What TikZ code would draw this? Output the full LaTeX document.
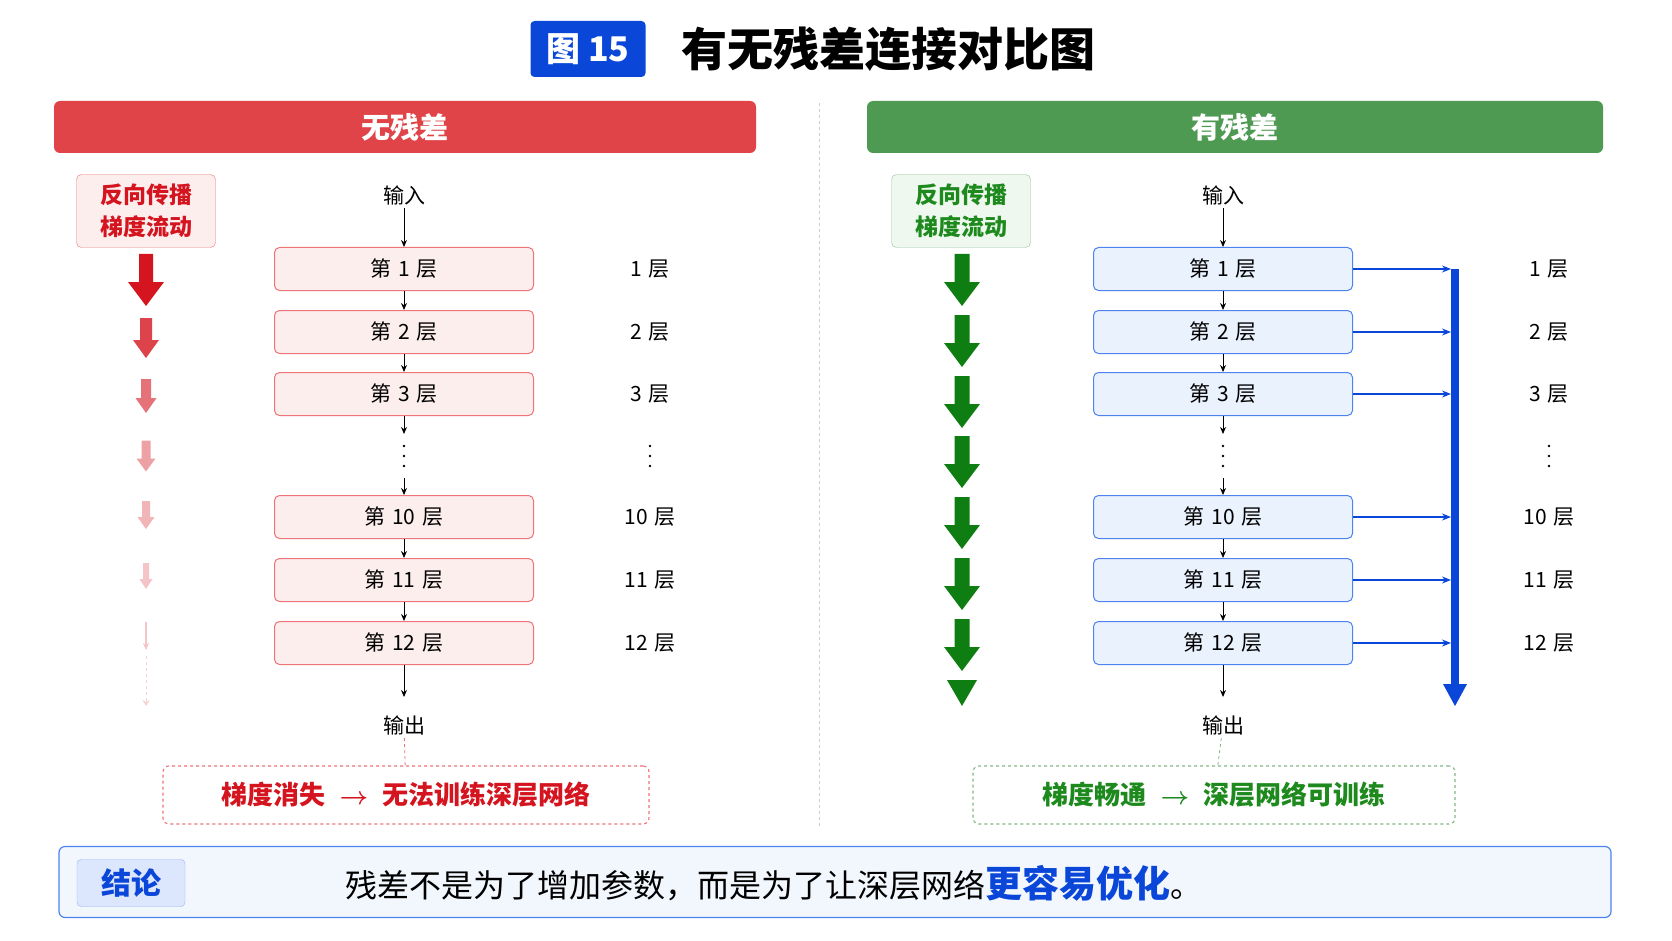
\documentclass[tikz,border=0pt]{standalone}
\usepackage{fontspec}
\setmainfont{Noto Sans CJK SC}
\usetikzlibrary{arrows.meta}
\definecolor{rd}{HTML}{E04448}
\definecolor{rdt}{HTML}{D4141E}
\definecolor{pinkf}{HTML}{FDEEEE}
\definecolor{pinkb}{HTML}{EE7478}
\definecolor{gr}{HTML}{4E9A52}
\definecolor{grt}{HTML}{1E8A1E}
\definecolor{grf}{HTML}{EEF8EE}
\definecolor{gra}{HTML}{0E7E12}
\definecolor{bl}{HTML}{0A46D8}
\definecolor{blf}{HTML}{EAF2FE}
\definecolor{blb}{HTML}{4E82EE}
\newcommand{\barrow}[7]{% x y shaftw total headw headlen color
 \fill[#7] (#1-#3/2,#2-#4/2) -- (#1+#3/2,#2-#4/2) -- (#1+#3/2,#2+#4/2-#6) -- (#1+#5/2,#2+#4/2-#6) -- (#1,#2+#4/2) -- (#1-#5/2,#2+#4/2-#6) -- (#1-#3/2,#2+#4/2-#6) -- cycle;}
\newcommand{\vdts}[2]{\foreach \dy in {-10,0,10}{\fill (#1,#2+\dy) circle (1.4pt);}}
\begin{document}
\begin{tikzpicture}[x=1pt,y=-1pt,
 lay/.style={draw=#1,line width=1pt,rounded corners=5pt,minimum width=259pt,minimum height=43pt,font=\fontsize{21}{22}\selectfont},
 conn/.style={-{Stealth[length=7pt,width=6pt]},line width=0.9pt},
 side/.style={font=\fontsize{21}{22}\selectfont},
 lbl/.style={font=\fontsize{21}{22}\selectfont}]
\useasboundingbox (0,0) rectangle (1672,941);
\fill[white] (0,0) rectangle (1672,941);
% title
\node[fill=bl,rounded corners=4pt,minimum width=115pt,minimum height=56pt,text=white,font=\fontsize{34}{36}\selectfont\bfseries] (badge) at (588,49) {图 15};
\node[anchor=west,font=\fontsize{46}{50}\selectfont\bfseries] (title) at (678,49) {有无残差连接对比图};
% banners
\node[fill=rd,rounded corners=6pt,minimum width=702pt,minimum height=52pt,text=white,font=\fontsize{29}{30}\selectfont\bfseries] (bl) at (405,127) {无残差};
\node[fill=gr,rounded corners=6pt,minimum width=736pt,minimum height=52pt,text=white,font=\fontsize{29}{30}\selectfont\bfseries] (br) at (1235,127) {有残差};
\draw[gray!40,dashed,line width=0.8pt] (819,103) -- (819,826);
% left tag
\node[draw=pinkb,fill=pinkf,rounded corners=5pt,minimum width=139pt,minimum height=73pt,align=center,text=rdt,font=\fontsize{23}{32}\selectfont\bfseries] (tl) at (146,211) {反向传播\\梯度流动};
\node[draw=gr!60,fill=grf,rounded corners=5pt,minimum width=139pt,minimum height=73pt,align=center,text=grt,font=\fontsize{23}{32}\selectfont\bfseries] (tr) at (961,211) {反向传播\\梯度流动};
% columns
\foreach \side/\cx/\lx/\col/\fil in {L/404/650/pinkb/pinkf, R/1223/1549/blb/blf}{
 \node[lbl] (\side in) at (\cx,195) {输入};
 \foreach \n/\y in {1/269,2/332,3/394,10/517,11/580,12/643}{
  \node[lay=\col,fill=\fil] (\side\n) at (\cx,\y) {第\hspace{7pt}\n\hspace{7pt}层};
  \node[side] (\side s\n) at (\lx,\y) {\n\hspace{7pt}层};
 }
 \node[lbl] (\side out) at (\cx,725) {输出};
 \vdts{\cx}{456}
 \vdts{\lx}{456}
 \coordinate (\side d1) at (\cx,434);
 \coordinate (\side d2) at (\cx,478);
 \draw[conn] (\side in) -- (\side1);
 \draw[conn] (\side1) -- (\side2);
 \draw[conn] (\side2) -- (\side3);
 \draw[conn] (\side3.south) -- (\side d1);
 \draw[conn] (\side d2) -- (\side10.north);
 \draw[conn] (\side10) -- (\side11);
 \draw[conn] (\side11) -- (\side12);
 \draw[conn] (\side12.south) -- ++(0,32);
}
% blue bypass bar
\coordinate (bt) at (1451,269);
\fill[bl] (1451,269) rectangle (1459,684);
\fill[bl] (1443,684) -- (1467,684) -- (1455,706) -- cycle;
\foreach \n in {1,2,3,10,11,12}{
 \draw[bl,line width=1.1pt,-{Stealth[length=9pt,width=7pt]}] (R\n.east) -- (R\n.east -| bt);
}
% left gradient arrows
\barrow{146}{280}{14}{52}{36}{24}{rdt}
\barrow{146}{338}{12}{40}{26}{18}{rdt!80!white}
\barrow{146}{396}{10}{34}{21}{15}{rdt!60!white}
\barrow{146}{456}{9}{31}{19}{13}{rdt!40!white}
\barrow{146}{515}{8}{28}{17}{12}{rdt!32!white}
\barrow{146}{576}{6}{26}{13}{10}{rdt!25!white}
\draw[rdt!25!white,line width=1.6pt,-{Stealth[length=7pt,width=6pt]}] (146,622) -- (146,650);
\draw[rdt!20!white,line width=1pt,dashed,-{Stealth[length=6pt,width=7pt,open]}] (146,656) -- (146,706);
% green arrows
\foreach \y in {280,341,402,462,523,584,645}{
 \barrow{962}{\y}{15}{52}{36}{24}{gra}
}
\fill[gra] (947,680) -- (977,680) -- (962,706) -- cycle;
% conclusions
\node[draw=pinkb,dashed,line width=1.1pt,rounded corners=6pt,fill=white,minimum width=486pt,minimum height=58pt,text=rdt,font=\fontsize{26}{28}\selectfont\bfseries] (cl) at (406,795) {梯度消失\hspace{14pt}{\boldmath$\rightarrow$}\hspace{14pt}无法训练深层网络};
\node[draw=gr!70,dashed,line width=1.1pt,rounded corners=6pt,fill=white,minimum width=482pt,minimum height=58pt,text=grt,font=\fontsize{26}{28}\selectfont\bfseries] (cr) at (1214,795) {梯度畅通\hspace{14pt}{\boldmath$\rightarrow$}\hspace{14pt}深层网络可训练};
\draw[pinkb,dashed,line width=0.8pt] (Lout) -- (cl);
\draw[gr!70,dashed,line width=0.8pt] (Rout) -- (cr);
% bottom
\node[draw=blb,line width=1.2pt,fill=blf!60!white,rounded corners=6pt,minimum width=1552pt,minimum height=71pt] (bot) at (835,882) {};
\node[draw=blb!60,fill=blb!20,rounded corners=4pt,minimum width=108pt,minimum height=47pt,text=bl,font=\fontsize{30}{32}\selectfont\bfseries] (tag) at (131,883) {结论};
\node[anchor=west,font=\fontsize{32}{34}\selectfont] (msg) at (342,883) {残差不是为了增加参数，而是为了让深层网络{\color{bl}\bfseries\fontsize{37}{38}\selectfont 更容易优化}。};
\end{tikzpicture}
\end{document}
